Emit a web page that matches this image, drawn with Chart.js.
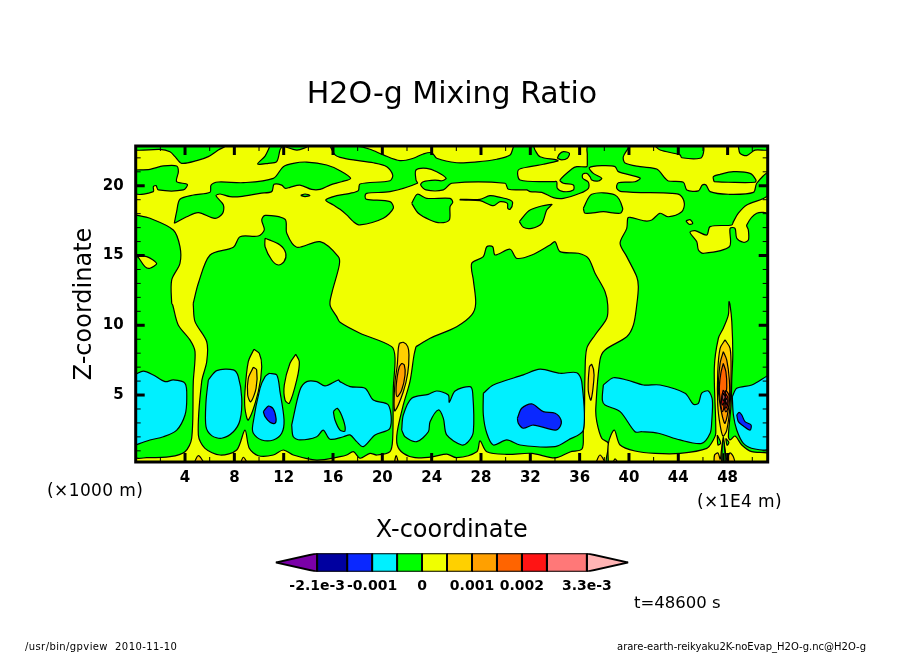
<!DOCTYPE html>
<html>
<head>
<meta charset="utf-8">
<title>H2O-g Mixing Ratio</title>
<script src="https://cdn.jsdelivr.net/npm/chart.js@4"></script>
<style>
  html, body { margin: 0; padding: 0; background: #fff; }
  #wrap { position: relative; width: 904px; height: 654px; overflow: hidden; font-family: "DejaVu Sans", sans-serif; color: #000; }
  #myChart { position: absolute; left: 0; top: 0; }
  #colorBar { position: absolute; left: 0; top: 545px; }
  .note { position: absolute; white-space: pre; line-height: 1; }
  .unit { font-size: 17px; letter-spacing: 0.4px; }
  .foot { font-size: 10px; }
</style>
</head>
<body>
<div id="wrap">
  <canvas id="myChart" width="904" height="654"></canvas>
  <canvas id="colorBar" width="904" height="62"></canvas>
  <div class="note unit" style="left:47px;top:482px">(×1000 m)</div>
  <div class="note unit" style="left:697px;top:493px">(×1E4 m)</div>
  <div class="note" style="left:634px;top:595px;font-size:16.5px">t=48600 s</div>
  <div class="note foot" style="left:25px;top:642px;letter-spacing:0.4px">/usr/bin/gpview  2010-11-10</div>
  <div class="note foot" style="left:617px;top:642px">arare-earth-reikyaku2K-noEvap_H2O-g.nc@H2O-g</div>
</div>
<script>
// axes: x in 1E4 m / 1000 m grid units, z in 1000 m
const xRange = [0, 51.25];
const zRange = [0.2, 22.85];
const xTickValues = [2,4,6,8,10,12,14,16,18,20,22,24,26,28,30,32,34,36,38,40,42,44,46,48,50];
const zTickValues = [1,2,3,4,5,6,7,8,9,10,11,12,13,14,15,16,17,18,19,20,21,22];

// colour bar
const levels = [-2.1e-3,-1.5e-3,-1e-3,-5e-4,0,5e-4,1e-3,1.5e-3,2e-3,2.5e-3,3.3e-3];
const levelColors = ['#0000a0','#0a28ff','#00f0ff','#00ff00','#f0ff00','#ffd000','#ffa000','#ff6400','#ff1414','#ff7878'];
const lowTip = [-2.93e-3, '#7a00a8'];
const highTip = [4.13e-3, '#ffb4b4'];
const barTickValues = [-2.1e-3,-1e-3,0,1e-3,2e-3,3.3e-3];
const barTickLabels = ['-2.1e-3','-0.001','0','0.001','0.002','3.3e-3'];

// contour regions [x, z], one list per level, painted in order
const yellowBack = [[0,0],[51.28,0],[51.28,22.85],[0,22.85]];
const greenShapes = [
  [[0,22.85],[7.24,22.85],[6.7,22.56],[5.89,22.09],[4.95,21.8],[3.73,21.61],[3.19,22.09],[2.78,22.44],[1.97,22.61],[0,22.56]],
  [[10.89,22.85],[10.49,22.13],[9.89,21.56],[10.76,21.61],[11.43,21.73],[11.7,22.56],[11.84,22.85]],
  [[11.94,22.85],[13.08,22.56],[13.97,22.85]],
  [[0,21.13],[1.16,21.18],[2.24,21.42],[3.32,21.42],[3.46,21.01],[3.32,20.29],[4.19,20.1],[3.86,19.7],[1.84,19.7],[1.65,20.01],[1.43,19.93],[1.43,19.58],[0,19.46]],
  [[3.13,17.31],[3.32,18.14],[3.59,19.03],[4.68,19.34],[6.03,19.53],[6.11,20.05],[6.7,20.27],[8.73,20.22],[11.16,20.53],[11.97,21.37],[12.78,21.61],[13.86,21.7],[15.49,21.49],[16.57,21.08],[17.43,20.53],[16.7,20.29],[15.76,20.05],[14.95,19.74],[14.27,19.74],[13.32,20.05],[12.51,19.89],[12.11,19.82],[11.84,20.05],[11.22,20.1],[11.03,19.58],[10.08,19.46],[8.46,19.22],[7.65,19.22],[6.84,19.41],[6.51,19.29],[7.11,18.62],[7.05,18.02],[6.43,17.66],[5.08,18.07],[4.14,17.78]],
  [[13.38,19.31],[13.73,19.41],[14.13,19.31],[13.73,19.22]],
  // upper band joined with the lower right block
  [[15.76,22.85],[17.79,22.85],[19,22.62],[20.08,22.21],[21.43,21.8],[22.51,21.97],[23.32,22.28],[24.01,22.37],[24.41,21.97],[26.03,21.65],[27.66,21.71],[29.28,21.9],[30.36,22.21],[30.62,22.76],[30.68,22.85],[32.22,22.85],[32.38,22.56],[32.79,22.08],[34.14,21.85],[34.25,21.78],[33.06,21.54],[31.98,21.37],[31.03,21.13],[31.17,20.41],[33.87,20.29],[34.14,20.29],[34.19,19.82],[34.68,19.58],[35.49,19.7],[35.49,20.06],[34.68,20.18],[34.41,20.41],[35.36,21.2],[35.77,21.37],[36.58,21.37],[36.62,21.61],[36.62,22.21],[36.68,22.85],[39.93,22.85],[39.54,22.08],[39.68,21.63],[40.9,21.37],[42.25,21.2],[42.93,20.54],[43.19,20.34],[44.41,20.25],[44.69,19.7],[45.63,19.63],[45.95,20.06],[46.25,20.06],[46.58,19.58],[48.06,19.39],[50.09,19.53],[50.36,20.18],[51.28,20.92],[51.28,19.34],[49.55,18.62],[48.87,18.03],[48.47,17.43],[48.34,17.19],[46.58,17.07],[46.31,16.47],[45.36,16.78],[44.95,16.67],[45.5,15.99],[45.63,15.4],[46.03,15.16],[48.14,15.63],[48.2,16.95],[48.6,16.95],[48.74,16.24],[49.28,15.95],[49.68,16.11],[49.68,16.83],[49.55,17.19],[50.36,18.03],[51.28,17.91],[51.28,0],[38.33,0],[38.33,1.54],[37.79,1.9],[37.39,3.09],[37.31,4.05],[37.65,7.51],[38.06,8.23],[39.82,9.18],[40.36,10.02],[40.63,11.45],[40.76,12.77],[40.63,13.48],[39.82,14.92],[39.28,15.88],[39.82,16.95],[39.9,17.67],[40.09,17.74],[41.3,17.48],[41.85,17.55],[42.52,18.03],[43.19,17.78],[44.28,18.14],[44.49,18.74],[44.14,19.34],[43.47,19.46],[39.41,19.58],[39.01,19.82],[39.14,20.22],[40.49,20.29],[40.9,20.56],[39.14,21.01],[38.87,21.37],[37.79,21.44],[36.79,21.3],[37.11,20.89],[37.79,20.54],[37.52,20.34],[36.98,20.41],[36.84,20.65],[36.58,20.89],[36.25,20.82],[36.25,20.54],[36.71,20.25],[36.71,19.82],[36.03,19.46],[34.68,19.1],[33.87,19.15],[32.93,19.53],[31.98,19.58],[31.71,19.7],[30.22,19.75],[29.95,20.18],[25.63,20.18],[24.95,19.7],[23.54,19.7],[23.11,20.06],[23.32,20.29],[24.27,20.41],[24.82,20.36],[25.17,20.54],[24.41,21.01],[23.6,21.25],[22.73,21.13],[22.73,20.41],[22.84,20.18],[20.62,19.58],[18.73,19.46],[18.6,19.22],[18.73,19.03],[20.62,18.86],[20.89,18.39],[20.08,17.67],[18.19,17.19],[17.65,17.43],[17.11,17.91],[16.57,18.31],[16.03,18.62],[15.41,18.98],[16.3,19.29],[17.38,19.46],[18.05,19.65],[18.19,20.13],[20.62,20.36],[20.84,20.77],[20.36,21.37],[19.27,21.65],[17.65,21.85],[16.57,22.04],[16.16,22.21]],
  [[34.19,21.97],[34.35,22.26],[34.68,22.44],[35.17,22.33],[35,21.97],[34.55,21.85]],
  [[22.38,18.74],[22.84,19.39],[23.6,19.1],[25.49,19.1],[25.71,18.82],[25.49,18.5],[25.43,17.55],[24.68,17.35],[23.87,17.55],[22.92,18.03]],
  [[26.3,19.03],[27.92,19.03],[28.73,19.29],[29.55,19.17],[30.36,18.98],[30.57,18.79],[30.36,18.31],[30.17,18.39],[30.14,18.74],[29.55,18.86],[29,18.57],[27.92,18.93],[26.3,18.98]],
  [[31.11,17.43],[31.98,18.26],[33.74,18.67],[33.33,18.26],[32.93,17.31],[32.12,16.95],[31.43,17.02]],
  [[36.3,18.39],[36.98,19.39],[38.87,19.34],[39.49,18.39],[39.28,18.03],[37.92,18.14],[36.44,18.03]],
  [[42.11,22.85],[42.52,22.56],[44.14,22.21],[44.28,22.01],[45.76,21.97],[46.03,22.33],[45.98,22.85]],
  [[48.87,22.85],[49,22.33],[49.55,22.16],[50.22,22.56],[51.28,22.56],[51.28,22.85]],
  [[46.9,20.29],[46.84,20.65],[47.39,20.82],[48.47,21.01],[49.82,20.89],[50.3,20.41],[50.22,20.25],[48.06,20.25]],
  // three lower blocks between the yellow columns
  [[0,17.91],[1.16,17.67],[3.05,16.83],[3.59,15.63],[3.59,14.44],[2.92,13.25],[2.92,11.58],[3,11.45],[3.45,10.02],[4.4,8.95],[4.81,8.11],[4.67,5.96],[4.54,1.9],[4,0.94],[2.78,0.58],[0.89,0.51],[0,0.58]],
  [[4.67,11.58],[5.08,13.01],[6.03,15.04],[7.92,15.59],[8.46,16.35],[9.94,16.4],[10.43,16.83],[10.22,17.55],[10.49,17.88],[12.11,17.6],[12.25,16.59],[13.06,15.59],[14.95,15.99],[16.43,14.92],[16.51,14.32],[15.9,12.29],[15.76,11.45],[16.3,10.62],[16.57,10.21],[18.19,9.43],[20.76,8.47],[21.03,7.63],[20.89,5.48],[20.84,1.9],[20.62,0.94],[19.55,0.7],[19,0.82],[18.19,0.47],[17.65,0.94],[17.11,0.7],[16.57,0.58],[14.68,0.34],[12.78,0.7],[11.97,1.06],[11.16,0.7],[9.94,0.65],[9.21,1.18],[8.86,2.49],[8.19,1.06],[6.84,0.7],[5.62,1.18],[5.08,2.14],[5.35,5.96],[5.76,7.39],[5.76,8.82],[4.81,10.26],[4.67,11.45]],
  [[22.73,8.47],[23.87,9.07],[26.03,9.9],[27.25,10.74],[27.57,11.58],[27.38,13.25],[27.25,14.44],[28.19,14.92],[28.47,15.63],[28.95,15.63],[29.14,15.04],[30.36,15.45],[30.9,14.8],[32.12,15.04],[33.6,15.76],[34.01,15.99],[34.41,15.28],[35.9,15.16],[36.71,14.8],[37.25,13.73],[38.06,12.41],[38.28,11.45],[38.2,10.5],[37.25,9.3],[36.58,8.35],[36.44,6.67],[36.38,3.33],[36.3,2.37],[36.19,1.13],[35.22,0.92],[34.01,0.49],[32.12,0.82],[30.09,0.75],[28.47,0.94],[27.92,1.71],[27.66,0.94],[26.03,0.51],[25.22,0.77],[24.14,0.58],[22.65,0.51],[21.7,0.82],[21.21,1.42],[21.21,2.37],[21.7,4.29],[22.24,5.96],[22.57,7.87]]
];
const yellowShapes = [
  [[38.33,0],[38.33,1.54],[38.81,2.49],[39.28,1.42],[40.49,0.99],[42.11,0.82],[44.14,0.82],[46.31,1.18],[46.84,1.78],[47.04,2.26],[46.92,6.92],[47.25,9.07],[47.65,9.79],[48.06,10.74],[48.11,11.69],[48.2,11.45],[48.34,10.26],[48.42,7.87],[48.34,6.2],[48.28,4.29],[48.06,2.01],[48.2,1.78],[48.6,2.06],[49.15,1.42],[49.96,0.94],[51.2,0.85],[51.28,0.63],[51.28,0]],
  [[0,14.97],[0.89,14.92],[1.7,14.44],[1.16,14.09],[0.75,14.2],[0.21,14.87]],
  [[10.49,16.24],[11.7,15.76],[12.17,15.16],[12.03,14.56],[11.57,14.32],[11.03,14.68],[10.49,15.63]],
  [[44.62,17.48],[44.95,17.57],[45.17,17.31],[44.87,17.24]],
  [[9.59,8.28],[10.02,7.99],[10.22,7.03],[9.94,5.24],[9.13,3.21],[8.86,4.05],[8.86,5.24],[9.13,7.39]],
  [[12.98,7.92],[13.27,7.39],[13.06,6.08],[12.46,4.41],[12.11,4.64],[12.05,5.72],[12.51,7.28]]
];
const cyanShapes = [
  [[0,6.49],[0.62,6.72],[1.43,6.44],[2.38,5.96],[3.05,6.08],[4,5.84],[4.14,4.77],[4,3.57],[3.33,2.49],[2.24,2.01],[1.16,1.78],[0.35,1.54],[0,1.47]],
  [[5.89,6.08],[6.57,6.75],[7.92,6.8],[8.32,6.32],[8.6,4.77],[8.46,3.21],[7.92,2.37],[6.97,1.9],[6.16,2.09],[5.7,2.73],[5.7,4.52]],
  [[10.83,6.56],[11.44,6.44],[11.7,5.24],[12.03,3.21],[11.84,2.26],[11.16,1.78],[10.22,1.78],[9.54,2.26],[9.49,2.85],[10.08,5.48],[10.49,6.32]],
  [[12.65,2.85],[13.32,5.36],[13.87,5.96],[14.68,5.96],[15.35,5.65],[16.43,6.08],[16.57,5.96],[17.38,5.6],[18.6,5.48],[19.27,4.64],[20.49,4.29],[20.62,2.62],[19.41,2.14],[18.46,1.3],[17.92,1.66],[17.38,2.14],[16.84,2.01],[15.76,1.83],[15.21,2.49],[14.68,2.01],[13.32,1.78],[12.78,2.01]],
  [[21.57,2.49],[21.7,3.57],[22.38,4.77],[23.73,5.05],[24.41,5.29],[25.35,5],[25.43,4.48],[25.9,5.29],[27.11,5.6],[27.33,5.13],[27.38,2.37],[26.97,1.66],[26.44,1.42],[25.22,2.14],[24.95,3.33],[24.54,3.93],[23.87,3.09],[23.73,2.37],[22.79,1.66],[21.84,2.01]],
  [[28.19,5.13],[29,5.72],[31.43,6.44],[32.79,6.85],[34.41,6.56],[35.77,6.6],[36.17,5.96],[36.3,2.49],[35.08,1.78],[34.01,1.3],[31.17,1.42],[30.09,1.78],[29,1.42],[28.47,2.26],[28.19,3.57]],
  [[37.92,5.72],[38.73,6.24],[39.82,6.08],[41.17,5.72],[42.52,5.72],[44.55,5.13],[45.22,4.34],[45.63,4.41],[45.9,5.13],[46.44,5.29],[46.76,4.64],[46.71,3.09],[46.58,2.26],[45.9,1.54],[44.14,1.78],[42.38,2.26],[41.04,2.37],[40.49,2.37],[39.28,3.81],[38.06,4.29],[37.84,4.64]],
  [[48.38,4.88],[48.74,5.48],[49.96,5.72],[51.2,6.37],[51.28,6.37],[51.28,1.2],[50.22,1.13],[49.28,1.54],[48.74,2.49],[48.47,3.57]]
];
const cyanLensGreen = [[16.03,3.81],[16.35,4.05],[16.84,3.21],[16.97,2.42],[16.57,2.49],[16.16,3.21]];
const blueShapes = [
  [[10.35,3.81],[10.75,4.21],[11.16,4],[11.38,3.33],[11.3,2.97],[10.89,3.05],[10.49,3.45]],
  [[30.95,3.33],[31.3,4.05],[32.12,4.36],[33.06,3.81],[34.01,3.69],[34.49,3.21],[34.41,2.73],[34.01,2.49],[32.24,2.85],[31.43,2.62],[31.03,2.97]],
  [[48.74,3.57],[48.93,3.76],[49.15,3.57],[49.41,3.09],[49.9,2.85],[49.82,2.49],[49.28,2.78],[48.87,3.09]]
];
const goldShapes = [
  [[9.54,6.99],[9.81,6.8],[9.76,5.48],[9.33,4.52],[9.08,5],[9.13,6.2]],
  [[36.79,7.03],[36.98,7.2],[37.17,6.44],[36.92,4.64],[36.71,5.24],[36.71,6.2]],
  [[21.38,8.71],[21.7,8.78],[22.06,8.47],[22.16,7.87],[22.06,6.56],[21.7,5.24],[21.03,3.86],[20.95,4.41],[21.03,5.96],[21.21,7.15],[21.3,8.35]],
  [[47.79,8.95],[48.2,8.35],[48.28,6.67],[48.2,4.29],[47.93,2.49],[47.63,2.06],[47.39,2.85],[47.2,4.29],[47.2,6.67],[47.39,8.35]],
  [[4.67,0],[5.08,0.65],[5.54,0]],
  [[8.46,0],[8.73,0.54],[9.05,0]],
  [[20.95,0],[21.11,0.65],[21.3,0]],
  [[37.25,0],[37.65,0.7],[38.06,0]],
  [[38.65,0],[38.87,0.42],[39.14,0]],
  [[46.9,0],[46.94,0.7],[47.22,0.85],[47.4,0.4],[47.5,1.06],[47.65,1.78],[47.8,1.06],[47.9,0.4],[48.2,0.85],[48.5,0.5],[48.52,0]]
];
const orangeShapes = [
  [[21.57,7.28],[21.78,7.15],[21.84,6.44],[21.57,5.36],[21.21,4.88],[21.11,5.36],[21.21,6.32],[21.38,7.03]],
  [[47.65,8.11],[47.93,7.51],[48.14,6.08],[48.14,4.64],[47.79,2.97],[47.52,3.69],[47.25,5.36],[47.39,7.27]]
];
const deepOrangeShapes = [
  [[47.65,7.27],[47.86,6.67],[47.93,5.6],[47.79,4.64],[47.6,3.81],[47.39,4.64],[47.33,5.6],[47.45,6.56]],
  [[47.86,5.36],[48.11,5],[48.11,4.29],[47.86,3.79],[47.7,4.29],[47.79,5]]
];
const redShapes = [
  [[47.65,5.36],[47.79,5.13],[47.73,4.52],[47.57,4.29],[47.52,4.88]],
  [[47.86,5.1],[48.02,4.8],[48.02,4.4],[47.86,4.05],[47.78,4.4],[47.8,4.8]]
];
const salmonShapes = [
  [[47.67,5.15],[47.79,4.86],[47.67,4.58],[47.6,4.86]],
  [[47.88,4.8],[47.97,4.6],[47.88,4.3],[47.82,4.6]]
];
const spikeBaseGreen = [
  [[47.5,0],[47.58,1.5],[47.65,2],[47.72,1.5],[47.8,0]],
  [[47.16,2.14],[47.44,1.56],[47.22,1.42]],
  [[47.85,1.9],[48.1,1.6],[47.95,1.4]]
];
const spikeBaseCyan = [[47.6,0],[47.63,0.8],[47.67,0.8],[47.7,0]];

function shape(points, color, width) {
  return {
    data: points.concat([points[0]]),
    showLine: true,
    fill: 'shape',
    backgroundColor: color,
    borderColor: '#000',
    borderWidth: width,
    pointRadius: 0,
    tension: 0.3
  };
}

const paintOrder = [
  [[yellowBack], levelColors[4]],
  [greenShapes, levelColors[3]],
  [yellowShapes, levelColors[4]],
  [cyanShapes, levelColors[2]],
  [[cyanLensGreen], levelColors[3]],
  [blueShapes, levelColors[1]],
  [goldShapes, levelColors[5]],
  [orangeShapes, levelColors[6]],
  [deepOrangeShapes, levelColors[7]],
  [redShapes, levelColors[8]],
  [salmonShapes, levelColors[9]],
  [spikeBaseGreen, levelColors[3]],
  [[spikeBaseCyan], levelColors[2]]
];

const contourSets = [];
paintOrder.forEach(function (entry) {
  entry[0].forEach(function (points) {
    contourSets.push(shape(points, entry[1], 1.2));
  });
});
// first dataset is drawn on top in Chart.js, so give later ones a lower order
contourSets.forEach(function (set, i) { set.order = contourSets.length - i; });

// frame and inward ticks on all four sides
const framePlugin = {
  id: 'frame',
  afterDatasetsDraw(chart) {
    const { ctx, chartArea: a, scales } = chart;
    ctx.save();
    ctx.strokeStyle = '#000';
    function tick(x1, y1, x2, y2, w) {
      ctx.lineWidth = w;
      ctx.beginPath();
      ctx.moveTo(x1, y1);
      ctx.lineTo(x2, y2);
      ctx.stroke();
    }
    scales.x.ticks.forEach(function (t) {
      const px = scales.x.getPixelForValue(t.value);
      const major = t.value % 4 === 0;
      const len = major ? 9 : 5;
      const w = major ? 3 : 1;
      tick(px, a.top, px, a.top + len, w);
      tick(px, a.bottom, px, a.bottom - len, w);
    });
    scales.y.ticks.forEach(function (t) {
      const py = scales.y.getPixelForValue(t.value);
      const major = t.value % 5 === 0;
      const len = major ? 9 : 5;
      const w = major ? 3 : 1;
      tick(a.left, py, a.left + len, py, w);
      tick(a.right, py, a.right - len, py, w);
    });
    ctx.lineWidth = 3;
    ctx.strokeRect(a.left, a.top, a.right - a.left, a.bottom - a.top);
    ctx.restore();
  }
};

new Chart(document.getElementById('myChart'), {
  type: 'scatter',
  data: { datasets: contourSets },
  plugins: [framePlugin],
  options: {
    responsive: false,
    animation: false,
    devicePixelRatio: 1,
    layout: { padding: { left: 0, right: 0, top: 0, bottom: 92 } },
    plugins: {
      legend: { display: false },
      tooltip: { enabled: false },
      title: {
        display: true,
        text: 'H2O-g Mixing Ratio',
        color: '#000',
        font: { family: 'DejaVu Sans', size: 30, weight: 'normal' },
        padding: { top: 77, bottom: 33 }
      }
    },
    scales: {
      x: {
        type: 'linear',
        min: xRange[0],
        max: xRange[1],
        afterBuildTicks(axis) { axis.ticks = xTickValues.map(function (value) { return { value: value }; }); },
        afterFit(axis) { axis.height = 100; },
        grid: { display: false, drawTicks: false },
        border: { display: false },
        ticks: {
          autoSkip: false, maxRotation: 0, padding: 7, color: '#000',
          font: { family: 'DejaVu Sans', size: 15, weight: 'bold' },
          callback(v) { return v % 4 === 0 ? String(v) : ''; }
        },
        title: {
          display: true, text: 'X-coordinate', color: '#000',
          font: { family: 'DejaVu Sans', size: 24 },
          padding: { top: 0, bottom: 16.6 }
        }
      },
      y: {
        type: 'linear',
        min: zRange[0],
        max: zRange[1],
        afterBuildTicks(axis) { axis.ticks = zTickValues.map(function (value) { return { value: value }; }); },
        afterFit(axis) { axis.width = 135.7; },
        grid: { display: false, drawTicks: false },
        border: { display: false },
        ticks: {
          autoSkip: false, padding: 12, color: '#000',
          font: { family: 'DejaVu Sans', size: 15, weight: 'bold' },
          callback(v) { return v % 5 === 0 ? String(v) : ''; }
        },
        title: {
          display: true, text: 'Z-coordinate', color: '#000',
          font: { family: 'DejaVu Sans', size: 24 },
          padding: { top: 70.6, bottom: 0 }
        }
      },
      // empty right axis keeps the plot box off the right edge, title stays centred on the page
      yRight: {
        type: 'linear',
        position: 'right',
        afterFit(axis) { axis.width = 136.3; },
        grid: { display: false, drawTicks: false },
        border: { display: false },
        ticks: { display: false }
      }
    }
  }
});

// colour bar, value axis is linear in the reference
const barSets = levelColors.map(function (color, i) {
  return shape([[levels[i],0],[levels[i+1],0],[levels[i+1],1],[levels[i],1]], color, 2);
});
barSets.push(shape([[levels[0],0],[lowTip[0],0.5],[levels[0],1]], lowTip[1], 2));
barSets.push(shape([[levels[levels.length-1],0],[highTip[0],0.5],[levels[levels.length-1],1]], highTip[1], 2));
barSets.forEach(function (set) { set.tension = 0; });

new Chart(document.getElementById('colorBar'), {
  type: 'scatter',
  data: { datasets: barSets },
  options: {
    responsive: false,
    animation: false,
    devicePixelRatio: 1,
    layout: { padding: { left: 275.7, right: 275.7, top: 8.3, bottom: 5.3 } },
    plugins: { legend: { display: false }, tooltip: { enabled: false }, title: { display: false } },
    scales: {
      x: {
        type: 'linear',
        min: lowTip[0],
        max: highTip[0],
        afterBuildTicks(axis) { axis.ticks = barTickValues.map(function (value) { return { value: value }; }); },
        afterFit(axis) { axis.height = 30; },
        grid: { display: false, drawTicks: false },
        border: { display: false },
        ticks: {
          autoSkip: false, maxRotation: 0, padding: 6, color: '#000',
          font: { family: 'DejaVu Sans', size: 14, weight: 'bold' },
          callback(v) { return barTickLabels[barTickValues.indexOf(v)]; }
        }
      },
      y: { type: 'linear', min: 0, max: 1, display: false }
    }
  }
});
</script>
</body>
</html>
